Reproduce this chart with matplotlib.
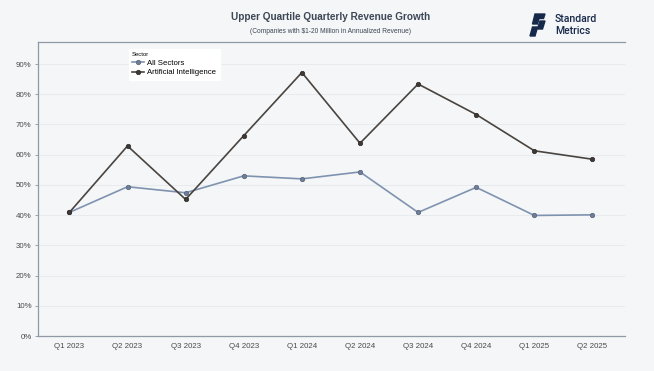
import numpy as np
import matplotlib.pyplot as plt
from matplotlib.patches import Polygon
from matplotlib.ticker import PercentFormatter

plt.rcParams['font.family'] = ['Liberation Sans', 'DejaVu Sans']

# Dados
quarters = ['Q1 2023', 'Q2 2023', 'Q3 2023', 'Q4 2023', 'Q1 2024',
            'Q2 2024', 'Q3 2024', 'Q4 2024', 'Q1 2025', 'Q2 2025']
all_sectors = [40.9, 49.4, 47.4, 53.0, 52.0, 54.3, 40.9, 49.2, 39.9, 40.1]
ai = [40.9, 62.9, 45.2, 66.3, 87.2, 63.8, 83.4, 73.3, 61.3, 58.5]

bg = '#f4f6f7'
fig = plt.figure(figsize=(6.54, 3.71), dpi=100, facecolor=bg)
ax = fig.add_axes([0.0581, 0.0943, 0.8976, 0.7925], facecolor=bg)

x = np.arange(len(quarters))
ax.plot(x, all_sectors, color='#7f93b0', lw=1.2, marker='o', ms=3.2,
        mfc='#6e7e96', mec='#55637a', mew=0.5, label='All Sectors', zorder=3)
ax.plot(x, ai, color='#4a4440', lw=1.2, marker='o', ms=3.2,
        mfc='#3e3935', mec='#2e2a27', mew=0.5, label='Artificial Intelligence', zorder=3)

ax.set_xlim(-0.54, 9.56)
ax.set_ylim(0, 97.3)
ax.set_xticks(x)
ax.set_xticklabels(quarters)
ax.set_yticks(np.arange(0, 100, 10))
ax.yaxis.set_major_formatter(PercentFormatter(decimals=0))
ax.tick_params(axis='both', labelsize=5.7, colors='#4a4a4a', length=0, pad=5)
ax.tick_params(axis='y', length=2.5, color='#8a95a3', width=0.6, pad=2)
ax.grid(axis='y', color='#e6eaed', lw=0.6)
ax.set_axisbelow(True)
for s in ['left', 'top', 'bottom']:
    ax.spines[s].set_color('#8f9aa6')
    ax.spines[s].set_linewidth(0.9)
ax.spines['right'].set_visible(False)

leg = ax.legend(title='Sector', loc='upper left', bbox_to_anchor=(0.148, 0.99),
                fontsize=5.6, title_fontsize=4.2, frameon=True, fancybox=False,
                framealpha=1, edgecolor='white', handlelength=1.6,
                borderpad=0.4, labelspacing=0.3, handletextpad=0.4)
leg._legend_box.align = 'left'

# Títulos
fig.text(0.505, 0.955, 'Upper Quartile Quarterly Revenue Growth', ha='center',
         va='center', fontsize=7.2, fontweight='bold', color='#3d4756')
fig.text(0.505, 0.915, '(Companies with $1-20 Million in Annualized Revenue)',
         ha='center', va='center', fontsize=4.8, color='#3d4756')

# Logo
navy = '#17294a'
def px(x, y):
    return (x / 654, 1 - y / 371)
fig.patches.append(Polygon([px(535, 14), px(545, 14), px(543.5, 18.5), px(539, 18.5),
                            px(537.5, 24), px(532.5, 24)], closed=True,
                           transform=fig.transFigure, color=navy))
fig.patches.append(Polygon([px(540, 21), px(545, 21), px(542.5, 29), px(537, 29),
                            px(535, 36), px(530, 36), px(532.5, 27), px(538, 27)],
                           closed=True, transform=fig.transFigure, color=navy))
fig.text(555 / 654, 1 - 19.5 / 371, 'Standard', ha='left', va='center',
         fontsize=7.6, color=navy, family='Roboto', fontweight='medium')
fig.text(555 / 654, 1 - 31.5 / 371, 'Metrics', ha='left', va='center',
         fontsize=7.6, color=navy, family='Roboto', fontweight='medium')

fig.savefig('out.png', dpi=100, facecolor=bg)
